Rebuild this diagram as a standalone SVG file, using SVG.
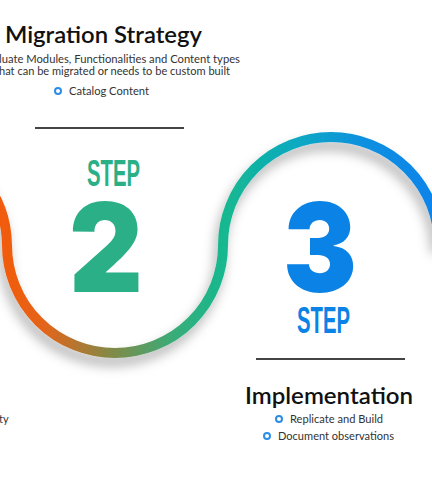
<svg xmlns="http://www.w3.org/2000/svg" width="432" height="478" viewBox="0 0 432 478">
<defs>
<linearGradient id="wave" gradientUnits="userSpaceOnUse" x1="0" y1="0" x2="432" y2="0">
<stop offset="0" stop-color="#f25a08"/>
<stop offset="0.1" stop-color="#e4641a"/>
<stop offset="0.26" stop-color="#808a48"/>
<stop offset="0.4" stop-color="#3aac78"/>
<stop offset="0.52" stop-color="#16b890"/>
<stop offset="0.68" stop-color="#0aaac0"/>
<stop offset="0.84" stop-color="#0a90e0"/>
<stop offset="1" stop-color="#0a84ea"/>
</linearGradient>
<filter id="shadow" x="-20%" y="-20%" width="140%" height="160%">
<feGaussianBlur in="SourceAlpha" stdDeviation="6"/>
<feOffset dx="-3" dy="8" result="b"/>
<feFlood flood-color="#000" flood-opacity="0.3"/>
<feComposite in2="b" operator="in"/>
<feMerge><feMergeNode/><feMergeNode in="SourceGraphic"/></feMerge>
</filter>
</defs>
<style>
.title{font-family:Lato,"Liberation Sans",sans-serif;font-weight:600;font-size:22px;fill:#111}
.sub{font-family:Lato,"Liberation Sans",sans-serif;font-size:11px;fill:#333}
.step{font-family:"Liberation Sans Narrow","Liberation Sans",sans-serif;font-weight:bold;font-size:36px}
.num{font-family:Inter,Lato,Roboto,sans-serif;font-weight:900;font-size:124px}
.bullet{fill:#fff;stroke:#2b8de8;stroke-width:2}
.rule{stroke:#444;stroke-width:2}
</style>
<rect width="432" height="478" fill="#fff"/>
<g id="connectors">
<path d="M -20,175 A 108 108 0 0 1 7 245 A 108 108 0 0 0 223 245 A 108 108 0 0 1 439 245" fill="none" stroke="url(#wave)" stroke-width="10" filter="url(#shadow)"/>
</g>
<g id="step-migration">
<text class="title" x="5" y="43" textLength="197" lengthAdjust="spacingAndGlyphs">Migration Strategy</text>
<text class="sub" x="-1" y="63" textLength="241" lengthAdjust="spacingAndGlyphs">luate Modules, Functionalities and Content types</text>
<text class="sub" x="-1" y="75" textLength="231" lengthAdjust="spacingAndGlyphs">hat can be migrated or needs to be custom built</text>
<circle class="bullet" cx="58" cy="91" r="3"/>
<text class="sub" x="69" y="95" textLength="80" lengthAdjust="spacingAndGlyphs">Catalog Content</text>
<line class="rule" x1="35" y1="128" x2="184" y2="128"/>
<text class="step" x="87" y="186" fill="#2aaf86" textLength="53" lengthAdjust="spacingAndGlyphs">STEP</text>
<text class="num" x="69" y="292" fill="#2aaf86" textLength="74" lengthAdjust="spacingAndGlyphs">2</text>
</g>
<g id="step-implementation">
<text class="num" x="283" y="292" fill="#0b83e6" textLength="74" lengthAdjust="spacingAndGlyphs">3</text>
<text class="step" x="297" y="333" fill="#0b83e6" textLength="53" lengthAdjust="spacingAndGlyphs">STEP</text>
<line class="rule" x1="256" y1="359" x2="405" y2="359"/>
<text class="title" x="245" y="404" textLength="168" lengthAdjust="spacingAndGlyphs">Implementation</text>
<circle class="bullet" cx="279" cy="419" r="3"/>
<text class="sub" x="290" y="423" textLength="93" lengthAdjust="spacingAndGlyphs">Replicate and Build</text>
<circle class="bullet" cx="267" cy="436" r="3"/>
<text class="sub" x="278" y="440" textLength="116" lengthAdjust="spacingAndGlyphs">Document observations</text>
</g>
<g id="step-previous">
<text class="sub" x="-1" y="423">ty</text>
</g>
</svg>
